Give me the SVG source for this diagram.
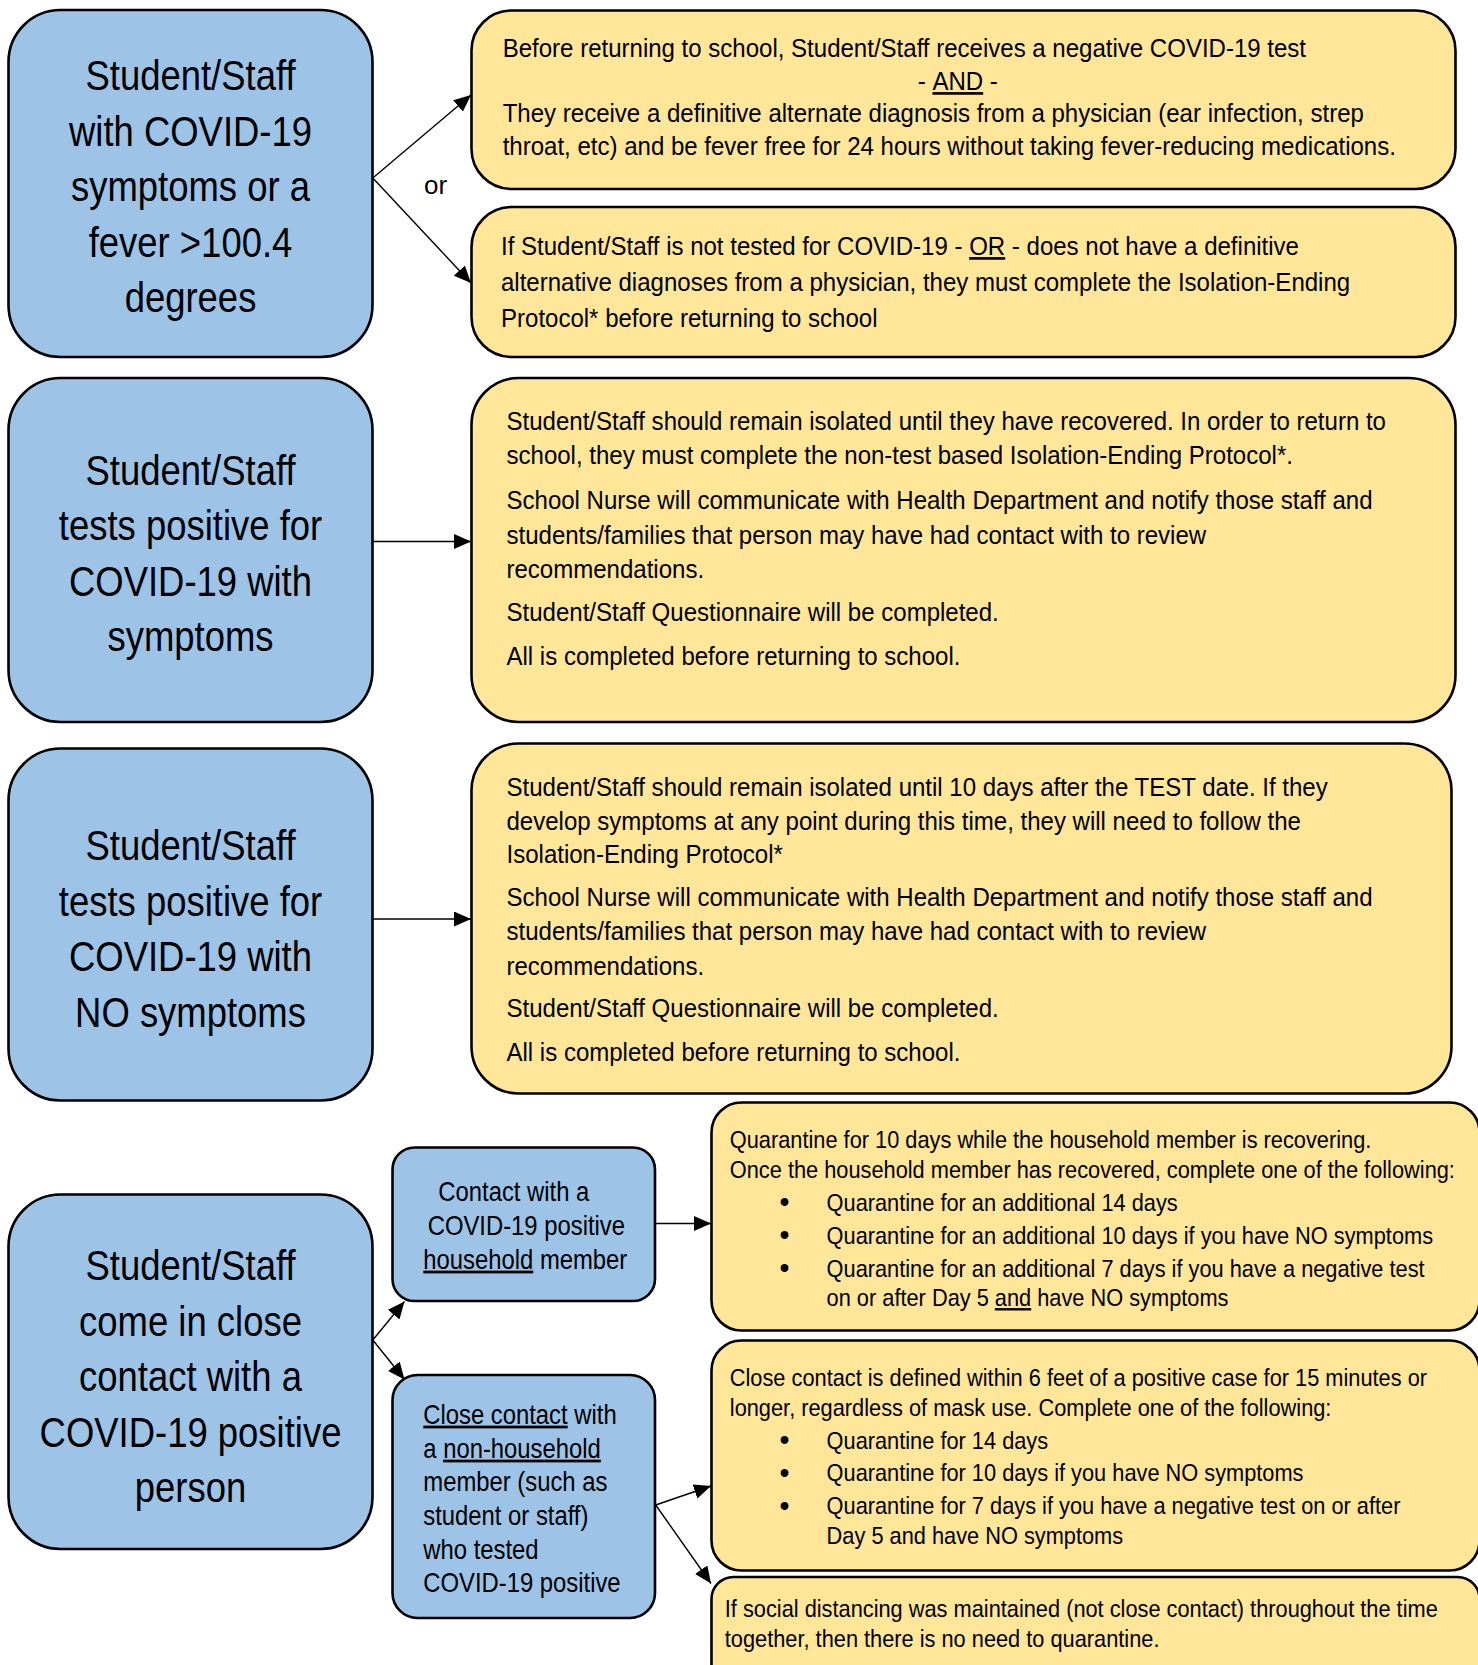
<svg xmlns="http://www.w3.org/2000/svg" width="1478" height="1665" viewBox="0 0 1478 1665">
<style>
.t{font-family:"Liberation Sans",Arial,sans-serif;fill:#000}
.big{font-size:42px;text-anchor:middle}
.yl{font-size:26.5px}
.ys{font-size:24px}
.sm{font-size:27.5px}
.bul{font-size:30px;text-anchor:middle}
.mid{text-anchor:middle}
.u{text-decoration:underline}
.blue{fill:#9DC3E6;stroke:#000;stroke-width:2.6}
.yel{fill:#FFE699;stroke:#000;stroke-width:2.6}
.conn{stroke:#000;stroke-width:1.4;fill:none;marker-end:url(#ah)}
</style>
<defs>
<marker id="ah" markerUnits="userSpaceOnUse" markerWidth="17" markerHeight="15" refX="17" refY="7.5" orient="auto">
<path d="M0,0 L17,7.5 L0,15 z" fill="#000"/>
</marker>
</defs>
<rect width="1478" height="1665" fill="#fff"/>

<g id="connectors">
<path class="conn" d="M372.8,178 L471,95"/>
<path class="conn" d="M372.8,178 L471,283"/>
<path class="conn" d="M372.8,541.5 L471,541.5"/>
<path class="conn" d="M372.8,919 L471,919"/>
<path class="conn" d="M372.8,1340 L404.5,1301.5"/>
<path class="conn" d="M372.8,1340 L404.5,1379.5"/>
<path class="conn" d="M655,1223.5 L711,1223.5"/>
<path class="conn" d="M655.7,1505 L711,1486"/>
<path class="conn" d="M655.7,1505 L711,1583.5"/>
<text class="t yl mid" transform="translate(435.5,194) scale(0.98,1)">or</text>
</g>

<g id="node-symptoms">
<rect class="blue" x="8.5" y="10" width="364" height="347" rx="52"/>
<text class="t big" transform="translate(190.5,90) scale(0.868,1)">Student/Staff</text>
<text class="t big" transform="translate(190.5,145.5) scale(0.868,1)">with COVID-19</text>
<text class="t big" transform="translate(190.5,201) scale(0.868,1)">symptoms or a</text>
<text class="t big" transform="translate(190.5,256.5) scale(0.868,1)">fever &gt;100.4</text>
<text class="t big" transform="translate(190.5,312) scale(0.868,1)">degrees</text>
</g>

<g id="node-negative-test">
<rect class="yel" x="471.5" y="10.5" width="984" height="178.5" rx="40"/>
<text class="t yl" transform="translate(502.7,57) scale(0.907,1)">Before returning to school, Student/Staff receives a negative COVID-19 test</text>
<text class="t yl mid" transform="translate(957.8,90) scale(0.907,1)">- <tspan class="u">AND</tspan> -</text>
<text class="t yl" transform="translate(502.7,122) scale(0.907,1)">They receive a definitive alternate diagnosis from a physician (ear infection, strep</text>
<text class="t yl" transform="translate(502.7,155) scale(0.907,1)">throat, etc) and be fever free for 24 hours without taking fever-reducing medications.</text>
</g>

<g id="node-not-tested">
<rect class="yel" x="471.5" y="207" width="984" height="150" rx="40"/>
<text class="t yl" transform="translate(501,255) scale(0.907,1)">If Student/Staff is not tested for COVID-19 - <tspan class="u">OR</tspan> - does not have a definitive</text>
<text class="t yl" transform="translate(501,291) scale(0.907,1)">alternative diagnoses from a physician, they must complete the Isolation-Ending</text>
<text class="t yl" transform="translate(501,326.5) scale(0.907,1)">Protocol* before returning to school</text>
</g>

<g id="node-positive-symptoms">
<rect class="blue" x="8.5" y="378" width="364" height="344" rx="52"/>
<text class="t big" transform="translate(190.5,484.5) scale(0.868,1)">Student/Staff</text>
<text class="t big" transform="translate(190.5,540) scale(0.868,1)">tests positive for</text>
<text class="t big" transform="translate(190.5,595.5) scale(0.868,1)">COVID-19 with</text>
<text class="t big" transform="translate(190.5,651) scale(0.868,1)">symptoms</text>
</g>

<g id="node-isolate-recovered">
<rect class="yel" x="471.5" y="378" width="984" height="344" rx="47"/>
<text class="t yl" transform="translate(506.5,430) scale(0.907,1)">Student/Staff should remain isolated until they have recovered. In order to return to</text>
<text class="t yl" transform="translate(506.5,464) scale(0.907,1)">school, they must complete the non-test based Isolation-Ending Protocol*.</text>
<text class="t yl" transform="translate(506.5,509) scale(0.907,1)">School Nurse will communicate with Health Department and notify those staff and</text>
<text class="t yl" transform="translate(506.5,543.5) scale(0.907,1)">students/families that person may have had contact with to review</text>
<text class="t yl" transform="translate(506.5,578) scale(0.907,1)">recommendations.</text>
<text class="t yl" transform="translate(506.5,621) scale(0.907,1)">Student/Staff Questionnaire will be completed.</text>
<text class="t yl" transform="translate(506.5,665) scale(0.907,1)">All is completed before returning to school.</text>
</g>

<g id="node-positive-no-symptoms">
<rect class="blue" x="8.5" y="748.5" width="364" height="352" rx="52"/>
<text class="t big" transform="translate(190.5,860) scale(0.868,1)">Student/Staff</text>
<text class="t big" transform="translate(190.5,915.5) scale(0.868,1)">tests positive for</text>
<text class="t big" transform="translate(190.5,971) scale(0.868,1)">COVID-19 with</text>
<text class="t big" transform="translate(190.5,1026.5) scale(0.868,1)">NO symptoms</text>
</g>

<g id="node-isolate-10-days">
<rect class="yel" x="471.5" y="743.5" width="980" height="350" rx="47"/>
<text class="t yl" transform="translate(506.5,795.5) scale(0.907,1)">Student/Staff should remain isolated until 10 days after the TEST date. If they</text>
<text class="t yl" transform="translate(506.5,830) scale(0.907,1)">develop symptoms at any point during this time, they will need to follow the</text>
<text class="t yl" transform="translate(506.5,863) scale(0.907,1)">Isolation-Ending Protocol*</text>
<text class="t yl" transform="translate(506.5,905.5) scale(0.907,1)">School Nurse will communicate with Health Department and notify those staff and</text>
<text class="t yl" transform="translate(506.5,940) scale(0.907,1)">students/families that person may have had contact with to review</text>
<text class="t yl" transform="translate(506.5,974.5) scale(0.907,1)">recommendations.</text>
<text class="t yl" transform="translate(506.5,1016.5) scale(0.907,1)">Student/Staff Questionnaire will be completed.</text>
<text class="t yl" transform="translate(506.5,1061) scale(0.907,1)">All is completed before returning to school.</text>
</g>

<g id="node-close-contact">
<rect class="blue" x="8.5" y="1194.5" width="364" height="354.5" rx="52"/>
<text class="t big" transform="translate(190.5,1280) scale(0.868,1)">Student/Staff</text>
<text class="t big" transform="translate(190.5,1335.5) scale(0.868,1)">come in close</text>
<text class="t big" transform="translate(190.5,1391) scale(0.868,1)">contact with a</text>
<text class="t big" transform="translate(190.5,1446.5) scale(0.868,1)">COVID-19 positive</text>
<text class="t big" transform="translate(190.5,1502) scale(0.868,1)">person</text>
</g>

<g id="node-household">
<rect class="blue" x="392.5" y="1147.5" width="262.5" height="153.5" rx="22"/>
<text class="t sm" transform="translate(438.3,1200.5) scale(0.867,1)">Contact with a</text>
<text class="t sm" transform="translate(427.7,1234.5) scale(0.867,1)">COVID-19 positive</text>
<text class="t sm" transform="translate(423.3,1268.5) scale(0.867,1)"><tspan class="u">household</tspan> member</text>
</g>

<g id="node-non-household">
<rect class="blue" x="392.5" y="1375" width="262.5" height="243" rx="25"/>
<text class="t sm" transform="translate(423.3,1423.5) scale(0.867,1)"><tspan class="u">Close contact</tspan> with</text>
<text class="t sm" transform="translate(423.3,1457.5) scale(0.867,1)">a <tspan class="u">non-household</tspan></text>
<text class="t sm" transform="translate(423.3,1490.5) scale(0.867,1)">member (such as</text>
<text class="t sm" transform="translate(423.3,1524.5) scale(0.867,1)">student or staff)</text>
<text class="t sm" transform="translate(423.3,1558.5) scale(0.867,1)">who tested</text>
<text class="t sm" transform="translate(423.3,1591.5) scale(0.867,1)">COVID-19 positive</text>
</g>

<g id="node-household-quarantine">
<rect class="yel" x="711.5" y="1102.5" width="768" height="228" rx="30"/>
<text class="t ys" transform="translate(729.8,1148) scale(0.908,1)">Quarantine for 10 days while the household member is recovering.</text>
<text class="t ys" transform="translate(729.8,1178) scale(0.908,1)">Once the household member has recovered, complete one of the following:</text>
<text class="t bul" transform="translate(784.4,1212) scale(0.95,1)">•</text>
<text class="t ys" transform="translate(826.6,1210.5) scale(0.908,1)">Quarantine for an additional 14 days</text>
<text class="t bul" transform="translate(784.4,1245) scale(0.95,1)">•</text>
<text class="t ys" transform="translate(826.6,1243.5) scale(0.908,1)">Quarantine for an additional 10 days if you have NO symptoms</text>
<text class="t bul" transform="translate(784.4,1278) scale(0.95,1)">•</text>
<text class="t ys" transform="translate(826.6,1276.5) scale(0.908,1)">Quarantine for an additional 7 days if you have a negative test</text>
<text class="t ys" transform="translate(826.6,1306) scale(0.908,1)">on or after Day 5 <tspan class="u">and</tspan> have NO symptoms</text>
</g>

<g id="node-close-quarantine">
<rect class="yel" x="711.5" y="1340.5" width="768" height="230" rx="30"/>
<text class="t ys" transform="translate(729.8,1386) scale(0.908,1)">Close contact is defined within 6 feet of a positive case for 15 minutes or</text>
<text class="t ys" transform="translate(729.8,1415.5) scale(0.908,1)">longer, regardless of mask use. Complete one of the following:</text>
<text class="t bul" transform="translate(784.4,1450) scale(0.95,1)">•</text>
<text class="t ys" transform="translate(826.6,1448.5) scale(0.908,1)">Quarantine for 14 days</text>
<text class="t bul" transform="translate(784.4,1482.5) scale(0.95,1)">•</text>
<text class="t ys" transform="translate(826.6,1481) scale(0.908,1)">Quarantine for 10 days if you have NO symptoms</text>
<text class="t bul" transform="translate(784.4,1515.5) scale(0.95,1)">•</text>
<text class="t ys" transform="translate(826.6,1514) scale(0.908,1)">Quarantine for 7 days if you have a negative test on or after</text>
<text class="t ys" transform="translate(826.6,1543.5) scale(0.908,1)">Day 5 and have NO symptoms</text>
</g>

<g id="node-social-distancing">
<rect class="yel" x="711.5" y="1577" width="768" height="110" rx="22"/>
<text class="t ys" transform="translate(724.8,1617.3) scale(0.908,1)">If social distancing was maintained (not close contact) throughout the time</text>
<text class="t ys" transform="translate(724.8,1647) scale(0.908,1)">together, then there is no need to quarantine.</text>
</g>
</svg>
